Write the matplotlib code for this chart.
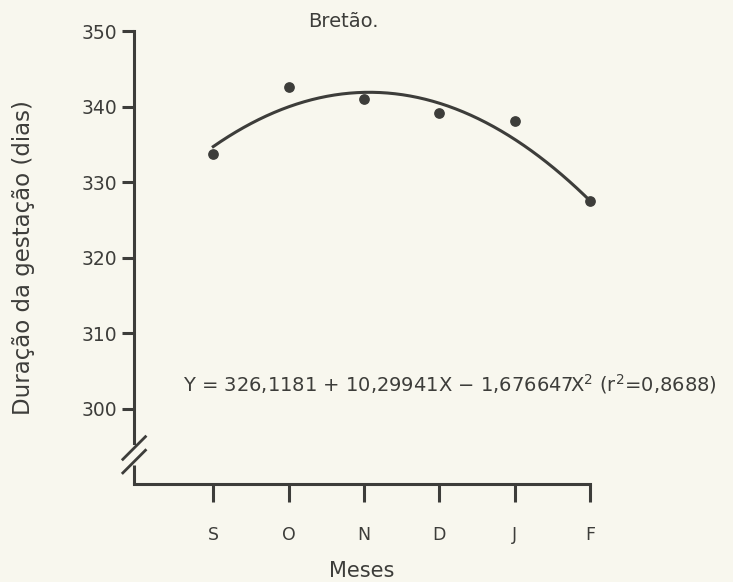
import numpy as np
import matplotlib
matplotlib.use("Agg")
import matplotlib.pyplot as plt

# data
months = ["S", "O", "N", "D", "J", "F"]
month_x = [1, 2, 3, 4, 5, 6]
gestation = [333.7, 342.6, 341.1, 339.2, 338.1, 327.5]

# regression coefficients printed on the chart
b0, b1, b2 = 326.1181, 10.29941, -1.676647
r2 = 0.8688

ink = "#3d3d3a"
paper = "#f8f7ee"

fig = plt.figure(figsize=(7.33, 5.82), dpi=100, facecolor=paper)
ax = fig.add_axes([0.183, 0.168, 0.622, 0.778], facecolor=paper)

# points and fitted curve
ax.scatter(month_x, gestation, s=45, color=ink, zorder=3, clip_on=False)
xs = np.linspace(month_x[0], month_x[-1], 200)
ax.plot(xs, b0 + b1 * xs + b2 * xs ** 2, color=ink, lw=2.2, clip_on=False)

ax.set_xlim(-0.05, 6)
ax.set_ylim(290, 350)
ax.set_xticks(month_x)
ax.set_xticklabels(months)
ax.set_yticks([300, 310, 320, 330, 340, 350])

for s in ["top", "right"]:
    ax.spines[s].set_visible(False)
ax.spines["left"].set_bounds(295.5, 350)
ax.spines["left"].set_color(ink)
ax.spines["bottom"].set_color(ink)
ax.spines["left"].set_linewidth(2.2)
ax.spines["bottom"].set_linewidth(2.2)

ax.tick_params(axis="y", direction="out", length=9, width=2.2, colors=ink,
               labelsize=13.5, pad=3)
ax.tick_params(axis="x", direction="out", length=13, width=2.2, colors=ink,
               labelsize=12.5, pad=17)

# lower piece of the y axis and break marks
ax.plot([-0.05, -0.05], [290, 292.5], color=ink, lw=2.2, clip_on=False,
        solid_capstyle="butt")
for yb in [293.0, 294.8]:
    ax.plot([-0.2, 0.1], [yb - 1.5, yb + 1.5], color=ink, lw=2.0, clip_on=False)

ax.set_title("Bretão.", color=ink, fontsize=14, pad=-6, x=0.458)
ax.set_xlabel("Meses", color=ink, fontsize=15, labelpad=12)
ax.set_ylabel("Duração da gestação (dias)", color=ink, fontsize=16.5, labelpad=34)

eq = "Y = 326,1181 + 10,29941X $-$ 1,676647X$^2$ (r$^2$=0,8688)"
ax.text(0.107, 0.222, eq, transform=ax.transAxes, color=ink, fontsize=14,
        va="center", clip_on=False)

fig.savefig("out.png", dpi=100, facecolor=paper)
